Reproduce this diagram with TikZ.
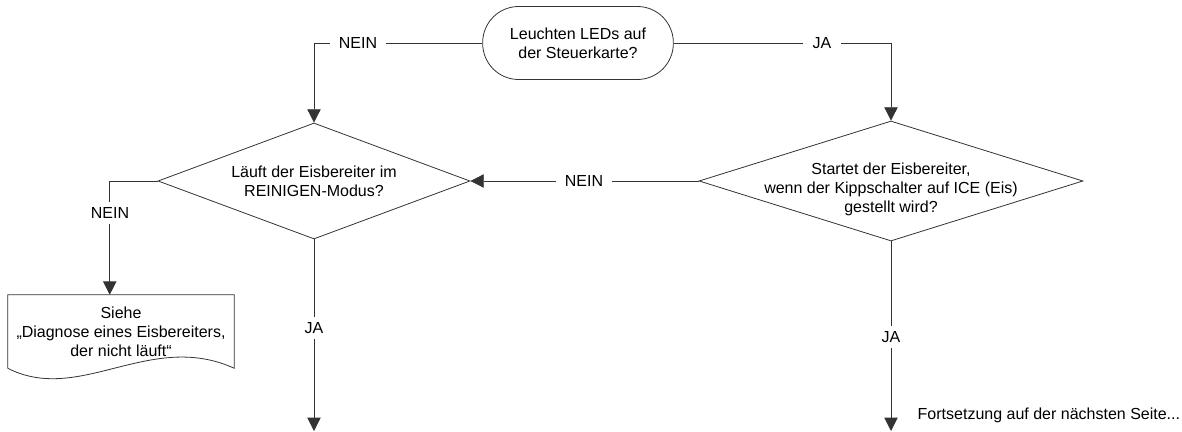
\documentclass[tikz,border=0pt]{standalone}
\usepackage{fontspec}
\setmainfont{Liberation Sans}
\usetikzlibrary{shapes.geometric,arrows.meta}
\tikzset{
  line/.style={draw=black!80, line width=0.6pt},
  arrow/.style={line, -{Triangle[length=10pt,width=10pt]}},
  terminal/.style={line, rectangle, rounded corners=27pt, minimum width=143pt, minimum height=54.75pt, align=center},
  decision/.style={line, diamond, inner sep=0pt},
  answer/.style={fill=white, inner xsep=7pt, inner ysep=4pt},
}

\begin{document}
\begin{tikzpicture}[x=0.75pt, y=-0.75pt, font=\fontsize{12}{14.25}\selectfont]
    \useasboundingbox (0,0) rectangle (1182,432);
    \node[terminal] (leds) at (578,43) {Leuchten LEDs auf\\der Steuerkarte?};
    \node[decision, minimum width=234pt, minimum height=87pt] (reinigen) at (314,181) {};
    \node[align=center] (reinigentext) at (reinigen) {Läuft der Eisbereiter im\\REINIGEN-Modus?};
    \node[decision, minimum width=288pt, minimum height=90pt] (kipp) at (891,181) {};
    \node[align=center] (kipptext) at ([yshift=-6pt]kipp) {Startet der Eisbereiter,\\wenn der Kippschalter auf ICE (Eis)\\gestellt wird?};
    \node[align=center, minimum width=169.5pt, minimum height=54.75pt] (siehe) at (121,331.5) {Siehe\\„Diagnose eines Eisbereiters,\\der nicht läuft“};
    \draw[line] (siehe.south west) -- (siehe.north west) -- (siehe.north east) -- (siehe.south east)
        .. controls (150,330) and (80,405) .. (siehe.south west);
    \coordinate (weiter1) at (314,431);
    \coordinate (weiter2) at (891,431);
    \draw[arrow] (leds.west) -| (reinigen.north);
    \draw[arrow] (leds.east) -| (kipp.north);
    \draw[arrow] (kipp.west) -- (reinigen.east);
    \draw[arrow] (reinigen.west) -| ([xshift=76.5pt]siehe.north west);
    \draw[arrow] (reinigen.south) -- (weiter1);
    \draw[arrow] (kipp.south) -- (weiter2);
    \node[answer] (nein1) at (358,43) {NEIN};
    \node[answer] (ja1) at (822,43) {JA};
    \node[answer] (nein2) at (584,181) {NEIN};
    \node[answer] (nein3) at (110,213) {NEIN};
    \node[answer] (ja2) at (314,328) {JA};
    \node[answer] (ja3) at (891,337) {JA};
    \node[anchor=west] (fortsetzung) at (913,415) {Fortsetzung auf der nächsten Seite...};
\end{tikzpicture}
\end{document}
